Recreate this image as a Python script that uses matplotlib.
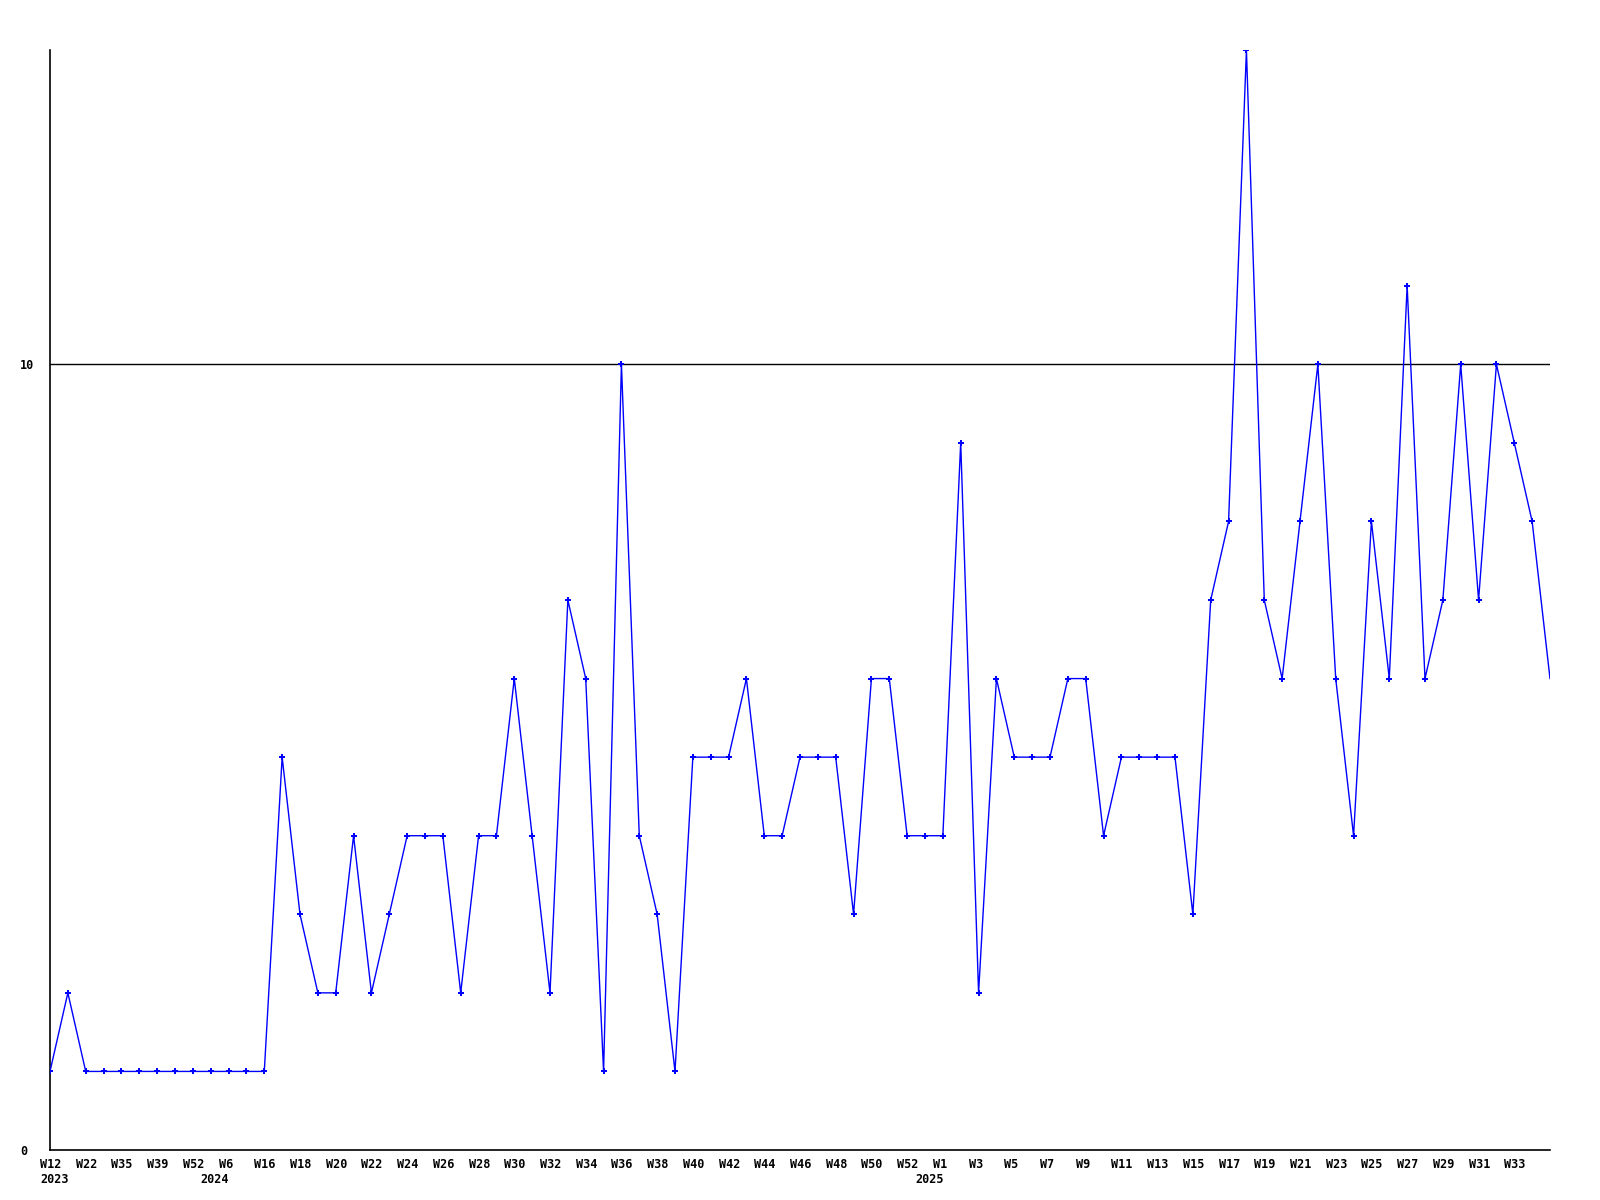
import matplotlib
matplotlib.use("Agg")
import matplotlib.pyplot as plt
import matplotlib.transforms as mtransforms

# weekly counts, one point per week with data
counts = [1, 2, 1, 1, 1, 1, 1, 1, 1, 1, 1, 1, 1, 5, 3, 2, 2, 4, 2, 3,
          4, 4, 4, 2, 4, 4, 6, 4, 2, 7, 6, 1, 10, 4, 3, 1, 5, 5, 5, 6,
          4, 4, 5, 5, 5, 3, 6, 6, 4, 4, 4, 9, 2, 6, 5, 5, 5, 6, 6, 4,
          5, 5, 5, 5, 3, 7, 8, 14, 7, 6, 8, 10, 6, 4, 8, 6, 11, 6, 7, 10,
          7, 10, 9, 8, 6]

# labels shown on every second point
week_labels = ["W12", "W22", "W35", "W39", "W52", "W6", "W16", "W18", "W20",
               "W22", "W24", "W26", "W28", "W30", "W32", "W34", "W36", "W38",
               "W40", "W42", "W44", "W46", "W48", "W50", "W52", "W1", "W3",
               "W5", "W7", "W9", "W11", "W13", "W15", "W17", "W19", "W21",
               "W23", "W25", "W27", "W29", "W31", "W33"]
year_pos = [0, 9, 49]
year_labels = ["2023", "2024", "2025"]

font = dict(family="DejaVu Sans Mono", weight="bold", size=8.5)

fig = plt.figure(figsize=(16, 12), dpi=100)
ax = fig.add_axes([50 / 1600, 50 / 1200, 1500 / 1600, 1100 / 1200])

x = list(range(len(counts)))
ax.plot(x, counts, color="#0000ff", linewidth=1, marker="P",
        markersize=5, markeredgewidth=0, markevery=slice(0, len(counts) - 1),
        zorder=3)

ax.set_xlim(0, len(counts) - 1)
ax.set_ylim(0, 14)
ax.axhline(10, color="black", linewidth=1, zorder=1)

for side in ["top", "right"]:
    ax.spines[side].set_visible(False)
for side in ["left", "bottom"]:
    ax.spines[side].set_linewidth(1.2)

ax.set_xticks([])
ax.set_yticks([0, 10])
ax.set_yticklabels(["0", "10"], **font)
ax.tick_params(axis="y", length=0, pad=21.6)
for lab in ax.get_yticklabels():
    lab.set_horizontalalignment("left")

off = mtransforms.ScaledTranslation(-10 / 100, 0, fig.dpi_scale_trans)
trans = mtransforms.blended_transform_factory(ax.transData, ax.transAxes) + off
for i, lab in enumerate(week_labels):
    ax.text(2 * i, -8 / 1100, lab, transform=trans, ha="left", va="top", **font)
for pos, lab in zip(year_pos, year_labels):
    ax.text(pos, -23 / 1100, lab, transform=trans, ha="left", va="top", **font)

fig.savefig("out.png", dpi=100, facecolor="white")
